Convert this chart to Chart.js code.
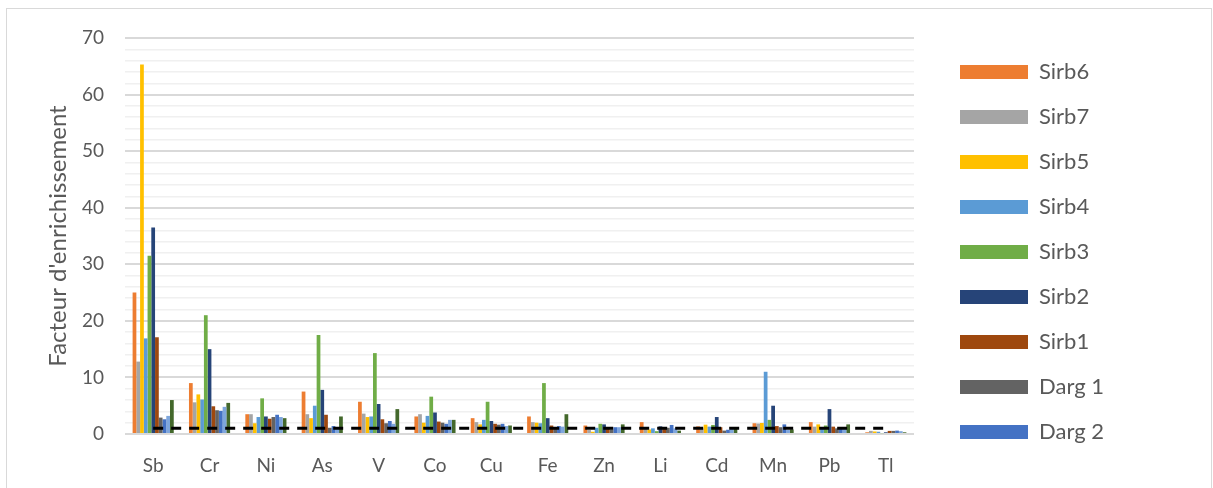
<!DOCTYPE html>
<html lang="fr">
<head>
<meta charset="utf-8">
<title>Facteur d'enrichissement</title>
<script src="https://cdn.jsdelivr.net/npm/chart.js@4.4.1/dist/chart.umd.min.js"></script>
<style>
  html, body { margin: 0; padding: 0; background: #fff; }
  #cadre {
    position: absolute; left: 6px; top: 8px; width: 1204px; height: 490px;
    border: 1px solid #d9d9d9;
  }
  #graphique { position: absolute; left: 0; top: 0; }
</style>
</head>
<body>
<div id="cadre"></div>
<canvas id="graphique" width="1213" height="488"></canvas>
<script>
// Éléments (axe des abscisses)
const elements = ["Sb", "Cr", "Ni", "As", "V", "Co", "Cu", "Fe", "Zn", "Li", "Cd", "Mn", "Pb", "Tl"];

// Facteurs d'enrichissement par station
const sirb6 = [25.0, 9.0, 3.5, 7.5, 5.7, 3.1, 2.8, 3.1, 1.5, 2.1, 1.35, 1.9, 2.1, 0.3];
const sirb7 = [12.8, 5.6, 3.5, 3.5, 3.6, 3.5, 2.1, 2.1, 0.7, 0.9, 1.0, 1.85, 1.3, 0.55];
const sirb5 = [65.3, 7.0, 1.9, 2.8, 3.0, 2.0, 1.7, 2.0, 0.4, 0.8, 1.65, 1.95, 1.7, 0.45];
const sirb4 = [16.9, 6.1, 3.0, 5.0, 3.1, 3.2, 2.5, 1.9, 1.1, 1.0, 1.3, 11.0, 1.2, 0.4];
const sirb3 = [31.5, 21.0, 6.3, 17.5, 14.3, 6.6, 5.7, 9.0, 1.8, 0.5, 1.6, 2.5, 1.5, 0.15];
const sirb2 = [36.5, 15.0, 3.1, 7.8, 5.3, 3.8, 2.3, 2.8, 1.7, 1.35, 3.0, 5.0, 4.4, 0.3];
const sirb1 = [17.1, 4.9, 2.7, 3.4, 2.6, 2.2, 1.8, 1.5, 0.9, 1.0, 1.2, 1.4, 1.3, 0.55];
const darg1 = [2.9, 4.2, 3.0, 1.1, 1.9, 2.0, 1.65, 1.2, 0.8, 1.1, 0.6, 1.2, 1.0, 0.55];
const darg2 = [2.6, 4.1, 3.4, 1.4, 2.3, 1.8, 1.8, 1.4, 1.2, 1.6, 0.75, 1.7, 1.0, 0.6];
const darg3 = [3.2, 4.8, 3.0, 1.2, 1.8, 2.5, 1.4, 1.3, 1.2, 1.0, 1.0, 0.7, 1.2, 0.5];
const darg4 = [6.0, 5.5, 2.8, 3.1, 4.4, 2.5, 1.5, 3.5, 1.7, 0.6, 1.15, 0.8, 1.7, 0.3];

// Seuil FE = 1
const seuil = elements.map(() => 1);

// Seules les 9 premières séries apparaissent dans la légende
const NB_LEGENDE = 9;
const LARGEUR_LEGENDE = 276;

const POLICE = "Lato, 'Open Sans', sans-serif";
const GRIS_TEXTE = "#595959";

function serie(label, data, couleur) {
  return {
    type: "bar",
    label: label,
    data: data,
    backgroundColor: couleur,
    borderWidth: 0,
    order: 1,
  };
}

const jeux = [
  serie("Sirb6", sirb6, "#ED7D31"),
  serie("Sirb7", sirb7, "#A5A5A5"),
  serie("Sirb5", sirb5, "#FFC000"),
  serie("Sirb4", sirb4, "#5B9BD5"),
  serie("Sirb3", sirb3, "#70AD47"),
  serie("Sirb2", sirb2, "#264478"),
  serie("Sirb1", sirb1, "#9E480E"),
  serie("Darg 1", darg1, "#636363"),
  serie("Darg 2", darg2, "#4472C4"),
  serie("Darg 3", darg3, "#7EA6DC"),
  serie("Darg 4", darg4, "#43682B"),
  {
    type: "line",
    label: "FE = 1",
    data: seuil,
    borderColor: "#000",
    borderWidth: 3,
    borderDash: [10, 8],
    pointRadius: 0,
    fill: false,
    order: 0,
  },
];

// La légende garde une largeur fixe, quelle que soit la longueur des libellés
const largeurLegende = {
  id: "largeurLegende",
  beforeLayout(chart) {
    const lg = chart.legend;
    if (lg && !lg._fitOrigine) {
      lg._fitOrigine = lg.fit;
      lg.fit = function () {
        this._fitOrigine();
        this.width = LARGEUR_LEGENDE;
      };
    }
  },
};

new Chart(document.getElementById("graphique"), {
  type: "bar",
  data: { labels: elements, datasets: jeux },
  plugins: [largeurLegende],
  options: {
    responsive: false,
    animation: false,
    layout: { padding: { left: 0, top: 38, right: 0, bottom: 0 } },
    datasets: {
      bar: { categoryPercentage: 0.73, barPercentage: 1.0 },
    },
    scales: {
      x: {
        grid: { display: false, drawTicks: false },
        border: { display: false },
        ticks: {
          color: GRIS_TEXTE,
          font: { family: POLICE, size: 19 },
          padding: 20,
          maxRotation: 0,
        },
        afterFit: (s) => { s.height = 54; },
      },
      y: {
        min: 0,
        max: 70,
        grid: {
          drawTicks: false,
          color: (c) => (c.tick && c.tick.value % 10 === 0 ? "#d9d9d9" : "#f0f0f0"),
          lineWidth: (c) => (c.tick && c.tick.value % 10 === 0 ? 2 : 1.5),
        },
        border: { display: false },
        ticks: {
          stepSize: 2,
          autoSkip: false,
          padding: 21,
          color: GRIS_TEXTE,
          font: { family: POLICE, size: 19 },
          callback: (v) => (v % 10 === 0 ? v : ""),
        },
        title: {
          display: true,
          text: "Facteur d'enrichissement",
          color: GRIS_TEXTE,
          font: { family: POLICE, size: 24, weight: "normal" },
          padding: { top: 44, bottom: 0 },
        },
        afterFit: (s) => { s.width = 125; },
      },
      // marge entre la zone du graphique et la légende
      yEspace: {
        type: "linear",
        position: "right",
        grid: { drawOnChartArea: false, drawTicks: false },
        border: { display: false },
        ticks: { display: false },
        afterFit: (s) => { s.width = 23; },
      },
    },
    plugins: {
      legend: {
        position: "right",
        align: "start",
        labels: {
          boxWidth: 68,
          boxHeight: 14,
          padding: 23,
          color: GRIS_TEXTE,
          font: { family: POLICE, size: 22 },
          filter: (item) => item.datasetIndex < NB_LEGENDE,
        },
      },
      tooltip: { enabled: false },
    },
  },
});
</script>
</body>
</html>
